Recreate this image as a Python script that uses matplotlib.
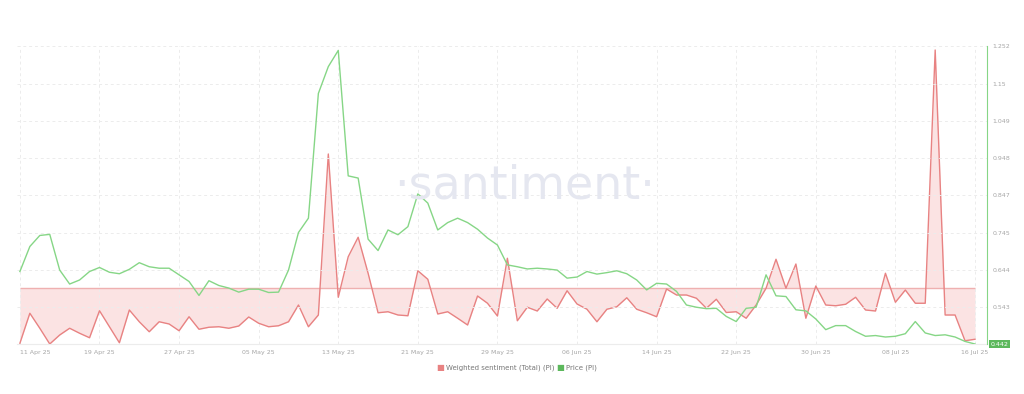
import numpy as np
import pandas as pd
import matplotlib
matplotlib.use("Agg")
import matplotlib.pyplot as plt
import matplotlib.dates as mdates

dates = pd.date_range("2025-04-11", periods=97, freq="D")

sentiment = [
    -2.21, -1.01, -1.61, -2.24, -1.88, -1.61, -1.81, -1.99, -0.91, -1.55,
    -2.19, -0.88, -1.35, -1.75, -1.35, -1.44, -1.71, -1.15, -1.65, -1.57,
    -1.55, -1.61, -1.52, -1.16, -1.41, -1.55, -1.51, -1.35, -0.68, -1.55,
    -1.08, 5.36, -0.37, 1.25, 2.03, 0.59, -0.99, -0.95, -1.08, -1.11,
    0.69, 0.35, -1.04, -0.95, -1.21, -1.48, -0.32, -0.61, -1.12, 1.19,
    -1.31, -0.77, -0.92, -0.44, -0.81, -0.11, -0.64, -0.85, -1.35, -0.85,
    -0.75, -0.39, -0.85, -0.99, -1.15, -0.04, -0.28, -0.28, -0.41, -0.81,
    -0.45, -0.98, -0.95, -1.21, -0.68, -0.01, 1.15, -0.01, 0.96, -1.21,
    0.08, -0.68, -0.71, -0.65, -0.37, -0.88, -0.92, 0.59, -0.57, -0.08,
    -0.61, -0.61, 9.52, -1.08, -1.08, -2.11, -2.05,
]

price = [
    0.639, 0.707, 0.737, 0.740, 0.643, 0.605, 0.616, 0.639, 0.650, 0.637,
    0.633, 0.645, 0.663, 0.652, 0.648, 0.648, 0.630, 0.612, 0.574, 0.614,
    0.601, 0.594, 0.583, 0.591, 0.591, 0.582, 0.583, 0.643, 0.745, 0.784,
    1.123, 1.196, 1.240, 0.899, 0.893, 0.727, 0.696, 0.752, 0.739, 0.761,
    0.850, 0.825, 0.752, 0.772, 0.784, 0.772, 0.754, 0.730, 0.711, 0.657,
    0.652, 0.646, 0.648, 0.646, 0.643, 0.621, 0.624, 0.639, 0.632, 0.636,
    0.641, 0.633, 0.616, 0.589, 0.607, 0.605, 0.585, 0.548, 0.542, 0.538,
    0.539, 0.517, 0.503, 0.539, 0.542, 0.630, 0.573, 0.571, 0.535, 0.532,
    0.510, 0.481, 0.492, 0.492, 0.476, 0.463, 0.465, 0.461, 0.463, 0.470,
    0.503, 0.472, 0.465, 0.467, 0.461, 0.449, 0.442,
]

price_ticks = [0.442, 0.543, 0.644, 0.745, 0.847, 0.948, 1.049, 1.15, 1.252]
date_ticks = pd.date_range("2025-04-11", "2025-07-16", freq="8D")

red = "#e88282"
green = "#86d686"
grey_txt = "#a6a6a6"

fig = plt.figure(figsize=(10.24, 3.94), dpi=100)
ax1 = fig.add_axes([17 / 1024, 1 - 344 / 394, 970 / 1024, 298 / 394])
ax2 = ax1.twinx()

# watermark
fig.text(0.512, 0.527, "·santiment·", fontsize=33, color="#e5e7f0",
         ha="center", va="center", zorder=0)

# sentiment (hidden axis)
ax1.fill_between(dates, sentiment, 0, color="#fbdfdf", alpha=0.85, lw=0)
ax1.hlines(0, dates[0], dates[-1], color="#efb0b0", lw=1)
ax1.plot(dates, sentiment, color=red, lw=1.0)
ax1.set_ylim(-2.24, 9.68)
ax1.set_yticks([])
ax1.set_xlim(dates[0] - pd.Timedelta(hours=7), dates[-1] + pd.Timedelta(hours=29))
ax1.set_xticks(date_ticks)
ax1.xaxis.set_major_formatter(mdates.DateFormatter("%d %b %y"))
ax1.tick_params(axis="x", labelsize=4.5, colors=grey_txt, length=0, pad=4)
ax1.get_xticklabels()[0].set_ha("left")
ax1.grid(axis="x", color="#ececec", ls=(0, (3, 3)), lw=0.7)
for s in ["left", "top", "right"]:
    ax1.spines[s].set_visible(False)
ax1.spines["bottom"].set_color("#ececec")

# price
ax2.plot(dates, price, color=green, lw=1.0)
ax2.set_ylim(price_ticks[0], price_ticks[-1])
ax2.set_yticks(price_ticks[1:])
ax2.set_yticklabels([str(t) for t in price_ticks[1:]])
ax2.tick_params(axis="y", labelsize=4.5, colors=grey_txt, length=0, pad=4)
ax2.grid(axis="y", color="#ececec", ls=(0, (3, 3)), lw=0.7)
ax2.set_axisbelow(True)
for s in ["left", "top", "bottom"]:
    ax2.spines[s].set_visible(False)
ax2.spines["right"].set_color(green)
ax2.text(1.004, price[-1], "%.3f" % price[-1], transform=ax2.get_yaxis_transform(),
         fontsize=4.5, color="white", ha="left", va="center",
         bbox=dict(boxstyle="square,pad=0.25", fc="#5cb85c", ec="none"))

# legend
fig.text(0.4295, 0.066, "■", color=red, fontsize=6, ha="center", va="center")
fig.text(0.4355, 0.066, "Weighted sentiment (Total) (PI)", color="#777777",
         fontsize=5, ha="left", va="center")
fig.text(0.547, 0.066, "■", color="#5cb85c", fontsize=6, ha="center", va="center")
fig.text(0.5525, 0.066, "Price (PI)", color="#777777", fontsize=5, ha="left", va="center")

fig.savefig("out.png", dpi=100, facecolor="white")
